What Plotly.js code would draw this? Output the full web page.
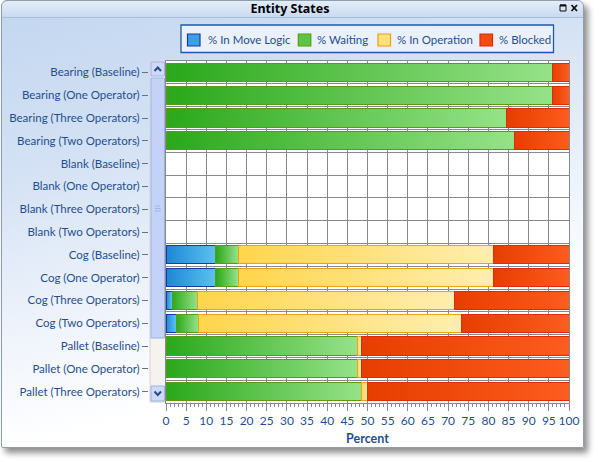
<!DOCTYPE html>
<html>
<head>
<meta charset="utf-8">
<script src="https://cdn.plot.ly/plotly-3.0.1.min.js"></script>
<style>
  html, body { margin:0; padding:0; background:#ffffff; width:599px; height:462px; overflow:hidden; }
  #win { position:absolute; left:1px; top:0px; width:581px; height:446px; border:1px solid #8f9db0;
         border-radius:6px 6px 2px 2px; box-shadow:4px 5px 6px rgba(0,0,0,0.45);
         background:linear-gradient(165deg, #c2d6f0 0%, #d3e1f4 28%, #eef3fb 55%, #ffffff 75%); }
  #bar { position:absolute; left:0; top:0; right:0; height:16px; border-bottom:1px solid #a9bdd8;
         border-radius:6px 6px 0 0; background:linear-gradient(#e4edf8, #c9daf0); }
  #chart { position:absolute; left:0; top:0; width:599px; height:462px; }
</style>
</head>
<body>
<div id="win"><div id="bar"></div></div>
<div id="chart"></div>
<script>
// ---- data ----
const categories = [
  'Bearing (Baseline)', 'Bearing (One Operator)', 'Bearing (Three Operators)', 'Bearing (Two Operators)',
  'Blank (Baseline)', 'Blank (One Operator)', 'Blank (Three Operators)', 'Blank (Two Operators)',
  'Cog (Baseline)', 'Cog (One Operator)', 'Cog (Three Operators)', 'Cog (Two Operators)',
  'Pallet (Baseline)', 'Pallet (One Operator)', 'Pallet (Three Operators)'
];
const seriesNames = ['% In Move Logic', '% Waiting', '% In Operation', '% Blocked'];
const inMoveLogic = [0, 0, 0, 0, 0, 0, 0, 0, 12.4, 12.4, 1.5, 2.5, 0, 0, 0];
const waiting     = [95.8, 95.8, 84.6, 86.4, 0, 0, 0, 0, 5.5, 5.5, 6.3, 5.5, 47.4, 47.4, 48.5];
const inOperation = [0, 0, 0, 0, 0, 0, 0, 0, 63.4, 63.4, 63.7, 65.2, 1.0, 1.0, 1.6];
const blocked     = [4.2, 4.2, 15.4, 13.6, 0, 0, 0, 0, 18.7, 18.7, 28.5, 26.8, 51.6, 51.6, 49.9];
const xTickVals = [0,5,10,15,20,25,30,35,40,45,50,55,60,65,70,75,80,85,90,95,100];

// ---- styles ----
const mid  = ['#3aa2e4', '#5cc64a', '#ffe07a', '#f24c0e'];
const edge = ['#1b3a9a', '#5b9b12', '#f0a010', '#e02a0c'];
const gradStops = [
  ['#1c86d6', '#5cc2f0'],
  ['#2aa81a', '#96e288'],
  ['#ffd54c', '#ffeeb0'],
  ['#e63e00', '#fc5c1e']
];
const txt = '#1f4f8e';
const grid = '#868892';
const FONT = 'Lato, Noto Sans, sans-serif';
const TFONT = 'Noto Sans, sans-serif';
const FS = 11.5;

const L = 140, R = 569, T = 61, B = 403;
const px = v => (v - L) / (R - L);
const py = v => (B - v) / (B - T);

const values = [inMoveLogic, waiting, inOperation, blocked];
const traces = values.map((vals, i) => ({
  type: 'bar', orientation: 'h', name: seriesNames[i],
  y: categories, x: vals.map(v => (v === 0 ? null : v)),
  marker: { color: mid[i], line: { color: edge[i], width: 1 } },
  width: 0.8, hoverinfo: 'x+name', showlegend: false
}));

// legend (box, swatches, labels) in pixel positions converted to paper coords
const legX = [187.5, 298.3, 378, 480];
const legTextX = [206, 315, 395, 497];
const shapes = [
  { type:'rect', xref:'paper', yref:'paper', x0:px(181), x1:px(553.5), y0:py(52.5), y1:py(25), fillcolor:'#ebf1fa', line:{color:'#1f5aa0', width:1.3} }
];
legX.forEach((x, i) => shapes.push({ type:'rect', xref:'paper', yref:'paper', x0:px(x), x1:px(x + 12.5), y0:py(46), y1:py(34),
  fillcolor: mid[i], line:{color: edge[i], width: 1.2} }));
const annotations = seriesNames.map((n, i) => ({ xref:'paper', yref:'paper', x:px(legTextX[i]), y:py(39.5), xanchor:'left', yanchor:'middle',
  text: n, showarrow:false, font:{ family: FONT, size: FS, color: txt } }));

// scrollbar & window decorations (paper coords)
shapes.push(
  { type:'rect', xref:'paper', yref:'paper', x0:px(150), x1:px(165.5), y0:py(402), y1:py(61), fillcolor:'#f4f3ef', line:{color:'#d6d6d2', width:1}, layer:'below' },
  { type:'rect', xref:'paper', yref:'paper', x0:px(151), x1:px(164.5), y0:py(76), y1:py(62), fillcolor:'#ccd9f8', line:{color:'#9cb1e6', width:1} },
  { type:'rect', xref:'paper', yref:'paper', x0:px(151), x1:px(164.5), y0:py(338), y1:py(78), fillcolor:'#c4d2f8', line:{color:'#9cb1e6', width:1} },
  { type:'rect', xref:'paper', yref:'paper', x0:px(151), x1:px(164.5), y0:py(401), y1:py(386), fillcolor:'#ccd9f8', line:{color:'#9cb1e6', width:1} },
  { type:'path', xref:'paper', yref:'paper', path:`M${px(154.5)},${py(71)} L${px(157.8)},${py(67.5)} L${px(161)},${py(71)}`, line:{color:'#2b4a8a', width:2} },
  { type:'path', xref:'paper', yref:'paper', path:`M${px(154.5)},${py(391.5)} L${px(157.8)},${py(395)} L${px(161)},${py(391.5)}`, line:{color:'#2b4a8a', width:2} },
  { type:'line', xref:'paper', yref:'paper', x0:px(155), x1:px(160.5), y0:py(206), y1:py(206), line:{color:'#9fb2e6', width:1} },
  { type:'line', xref:'paper', yref:'paper', x0:px(155), x1:px(160.5), y0:py(208.5), y1:py(208.5), line:{color:'#9fb2e6', width:1} },
  { type:'line', xref:'paper', yref:'paper', x0:px(155), x1:px(160.5), y0:py(211), y1:py(211), line:{color:'#9fb2e6', width:1} },
  // window buttons
  { type:'rect', xref:'paper', yref:'paper', x0:px(560), x1:px(566), y0:py(11), y1:py(5), line:{color:'#111', width:1}, fillcolor:'rgba(0,0,0,0)' },
  { type:'line', xref:'paper', yref:'paper', x0:px(560), x1:px(566), y0:py(5.5), y1:py(5.5), line:{color:'#111', width:2} },
  { type:'line', xref:'paper', yref:'paper', x0:px(571.5), x1:px(577), y0:py(5), y1:py(11), line:{color:'#111', width:1.8} },
  { type:'line', xref:'paper', yref:'paper', x0:px(571.5), x1:px(577), y0:py(11), y1:py(5), line:{color:'#111', width:1.8} }
);

const layout = {
  width: 599, height: 462,
  margin: { l: L, r: 599 - R, t: T, b: 462 - B, pad: 0 },
  paper_bgcolor: 'rgba(0,0,0,0)', plot_bgcolor: '#ffffff',
  font: { family: FONT, size: FS, color: txt },
  title: { text: '<b>Entity States</b>', font: { family: TFONT, size: 12.5, color: '#000' },
           xref: 'container', yref: 'container', x: 290 / 599, y: 1 - 8.5 / 462, xanchor: 'center', yanchor: 'middle' },
  barmode: 'stack', bargap: 0.2,
  showlegend: false,
  xaxis: {
    domain: [px(166), 1], range: [0, 100], tickvals: xTickVals, ticks: 'outside', ticklen: 7, tickcolor: grid,
    minor: { dtick: 1, ticks: 'outside', ticklen: 3, tickcolor: grid, showgrid: false },
    showgrid: true, gridcolor: grid, gridwidth: 1, zeroline: false,
    showline: true, linecolor: grid, mirror: true,
    tickfont: { family: FONT, size: FS + 0.5, color: txt },
    title: { text: '<b>Percent</b>', font: { family: FONT, size: 12.5, color: txt }, standoff: 6 },
    fixedrange: true
  },
  yaxis: {
    type: 'category', categoryorder: 'array', categoryarray: categories,
    range: [14.5, -0.5], anchor: 'free', position: px(148),
    ticks: 'outside', ticklen: 6, tickcolor: '#707070', showgrid: false, showline: false, zeroline: false,
    tickfont: { family: FONT, size: FS, color: txt }, fixedrange: true
  },
  yaxis2: {
    overlaying: 'y', anchor: 'x', range: [14.5, -0.5], tick0: 0.5, dtick: 1,
    showgrid: true, gridcolor: grid, gridwidth: 1, showticklabels: false, ticks: '', zeroline: false,
    showline: true, linecolor: grid, mirror: true, fixedrange: true
  },
  shapes: shapes,
  annotations: annotations
};

// invisible helper trace on y2 so the grid axis is rendered
traces.push({ type: 'scatter', x: [null], y: [null], yaxis: 'y2', showlegend: false, hoverinfo: 'skip' });

function applyGradients(gd) {
  const ns = 'http://www.w3.org/2000/svg';
  const svg = gd.querySelector('svg.main-svg');
  let defs = svg.querySelector('defs');
  if (!defs) { defs = document.createElementNS(ns, 'defs'); svg.insertBefore(defs, svg.firstChild); }
  gradStops.forEach((s, i) => {
    if (svg.querySelector('#bargrad' + i)) return;
    const g = document.createElementNS(ns, 'linearGradient');
    g.setAttribute('id', 'bargrad' + i);
    g.setAttribute('x1', '0'); g.setAttribute('y1', '0'); g.setAttribute('x2', '1'); g.setAttribute('y2', '0');
    [[0, s[0]], [1, s[1]]].forEach(([o, c]) => {
      const st = document.createElementNS(ns, 'stop');
      st.setAttribute('offset', o); st.setAttribute('stop-color', c);
      g.appendChild(st);
    });
    defs.appendChild(g);
  });
  gd.querySelectorAll('.barlayer .trace.bars').forEach((t, i) => {
    t.querySelectorAll('path').forEach(p => { p.style.fill = 'url(#bargrad' + i + ')'; });
  });
}

const gd = document.getElementById('chart');
Plotly.newPlot(gd, traces, layout, { displayModeBar: false, staticPlot: true }).then(() => {
  applyGradients(gd);
  gd.on && gd.on('plotly_afterplot', () => applyGradients(gd));
});
</script>
</body>
</html>
